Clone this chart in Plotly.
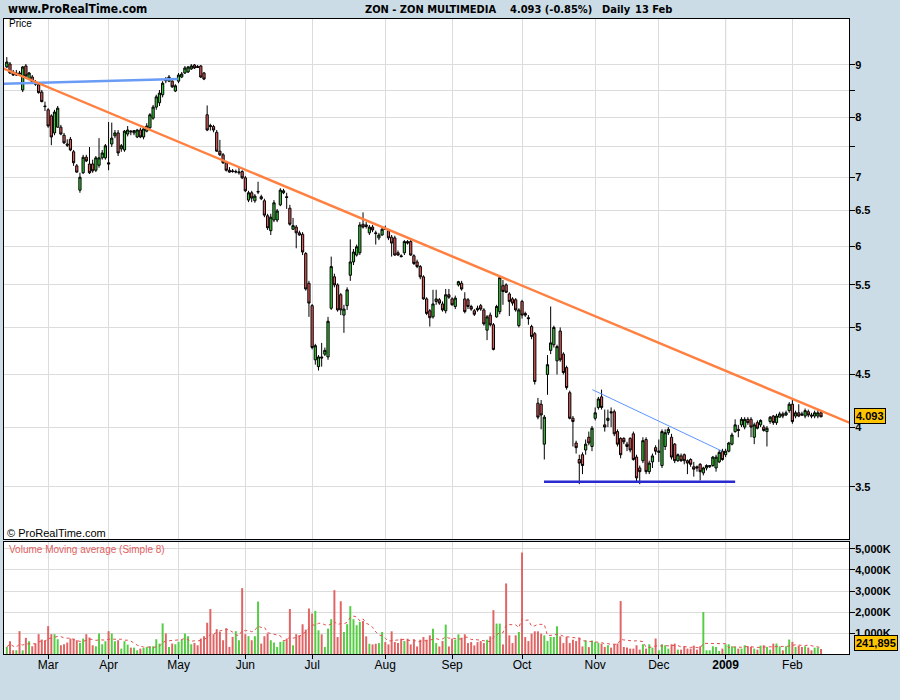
import math
import pandas as pd
import plotly.graph_objects as go

# ---------------- data ----------------
holidays = ["2008-03-21", "2008-03-24", "2008-05-01", "2008-12-25", "2008-12-26", "2009-01-01"]
dates = [d for d in pd.bdate_range("2008-02-13", "2009-02-13") if d.strftime("%Y-%m-%d") not in holidays]

opens = [
    8.96, 9.02, 8.86, 8.80, 8.84, 8.51, 8.98, 8.72, 8.76, 8.66,
    8.61, 8.47, 8.21, 8.14, 8.03, 7.73, 7.83, 7.83, 7.69, 7.54,
    7.62, 7.41, 7.18, 6.80, 7.07, 7.32, 7.21, 7.21, 7.11, 7.19,
    7.31, 7.31, 7.23, 7.54, 7.68, 7.73, 7.46, 7.44, 7.71, 7.76,
    7.73, 7.66, 7.78, 7.66, 7.76, 7.82, 7.99, 8.19, 8.27, 8.42,
    8.70, 8.68, 8.68, 8.49, 8.68, 8.76, 8.84, 8.86, 8.92, 9.00,
    8.97, 8.98, 8.84, 8.05, 7.86, 7.84, 7.74, 7.42, 7.36, 7.23,
    7.11, 7.10, 7.08, 7.07, 7.09, 6.99, 6.65, 6.76, 6.64, 6.77,
    6.70, 6.64, 6.42, 6.21, 6.36, 6.36, 6.58, 6.76, 6.70, 6.53,
    6.23, 6.26, 6.18, 6.16, 5.90, 5.52, 5.25, 4.65, 4.58, 4.68,
    4.71, 4.68, 5.22, 5.60, 5.50, 5.38, 5.14, 5.25, 5.62, 5.79,
    5.88, 5.91, 6.30, 6.29, 6.18, 6.26, 6.18, 6.11, 6.15, 6.24,
    6.21, 6.12, 6.11, 5.91, 5.87, 5.91, 6.06, 6.06, 5.87, 5.79,
    5.73, 5.60, 5.33, 5.19, 5.12, 5.30, 5.32, 5.27, 5.19, 5.38,
    5.33, 5.24, 5.50, 5.52, 5.33, 5.32, 5.24, 5.19, 5.22, 5.25,
    5.20, 4.97, 5.14, 5.03, 5.12, 5.18, 5.49, 5.50, 5.39, 5.33,
    5.32, 5.02, 5.30, 5.16, 5.11, 5.01, 4.93, 4.22, 4.21, 3.85,
    4.50, 4.75, 4.81, 4.64, 4.96, 4.71, 4.57, 4.32, 4.08, 3.86,
    3.72, 3.76, 3.80, 3.91, 3.83, 4.08, 4.18, 4.28, 4.02, 4.06,
    4.14, 4.14, 3.96, 3.90, 3.90, 3.85, 3.90, 3.94, 3.74, 3.65,
    3.71, 3.89, 3.62, 3.70, 3.82, 3.78, 3.67, 3.83, 3.95, 3.91,
    3.85, 3.71, 3.75, 3.76, 3.71, 3.72, 3.66, 3.66, 3.68, 3.61,
    3.65, 3.66, 3.67, 3.65, 3.70, 3.79, 3.76, 3.79, 3.85, 3.96,
    3.98, 4.02, 4.00, 4.07, 4.07, 3.91, 4.04, 4.02, 4.00, 3.96,
    4.05, 4.10, 4.04, 4.09, 4.12, 4.11, 4.15, 4.21, 4.10, 4.13,
    4.12, 4.10, 4.14, 4.11, 4.10, 4.10, 4.13,
]
closes = [
    9.06, 8.84, 8.80, 8.84, 8.82, 8.96, 8.78, 8.84, 8.66, 8.62,
    8.46, 8.29, 8.20, 7.85, 7.66, 8.10, 8.17, 7.71, 7.56, 7.52,
    7.44, 7.23, 7.08, 7.00, 7.32, 7.26, 7.07, 7.10, 7.31, 7.31,
    7.39, 7.51, 7.21, 7.64, 7.73, 7.39, 7.51, 7.76, 7.78, 7.75,
    7.77, 7.78, 7.66, 7.80, 7.85, 8.05, 8.19, 8.38, 8.45, 8.64,
    8.69, 8.76, 8.57, 8.59, 8.80, 8.82, 8.94, 8.96, 8.98, 8.94,
    8.95, 8.76, 8.72, 7.78, 7.84, 7.78, 7.42, 7.36, 7.23, 7.11,
    7.08, 7.09, 7.09, 7.08, 6.99, 6.79, 6.76, 6.68, 6.71, 6.78,
    6.67, 6.43, 6.25, 6.40, 6.61, 6.49, 6.80, 6.79, 6.69, 6.30,
    6.28, 6.18, 6.15, 5.92, 5.45, 5.28, 4.78, 4.80, 4.68, 4.67,
    4.75, 5.07, 5.73, 5.50, 5.20, 5.20, 5.21, 5.44, 5.79, 5.92,
    5.99, 6.29, 6.26, 6.27, 6.26, 6.22, 6.17, 6.15, 6.23, 6.23,
    6.11, 6.04, 5.88, 5.88, 5.86, 6.06, 6.04, 5.88, 5.77, 5.73,
    5.60, 5.33, 5.16, 5.11, 5.27, 5.33, 5.28, 5.20, 5.38, 5.35,
    5.26, 5.34, 5.54, 5.45, 5.18, 5.24, 5.21, 5.15, 5.20, 5.21,
    5.04, 5.12, 5.03, 4.76, 5.24, 5.59, 5.42, 5.41, 5.30, 5.28,
    5.20, 5.20, 5.14, 5.14, 5.10, 4.90, 4.43, 4.09, 4.11, 4.09,
    4.60, 4.83, 5.00, 4.79, 4.65, 4.52, 4.37, 4.08, 4.05, 3.82,
    3.69, 3.67, 3.85, 3.86, 3.99, 4.13, 4.26, 4.18, 4.00, 4.08,
    4.13, 3.94, 3.85, 3.76, 3.87, 3.83, 3.80, 3.72, 3.57, 3.62,
    3.88, 3.62, 3.69, 3.75, 3.79, 3.79, 3.96, 3.95, 3.98, 3.74,
    3.71, 3.76, 3.71, 3.71, 3.69, 3.68, 3.64, 3.65, 3.62, 3.65,
    3.67, 3.67, 3.74, 3.74, 3.78, 3.72, 3.79, 3.86, 3.93, 4.02,
    3.97, 4.07, 4.07, 4.04, 4.00, 4.02, 3.99, 4.06, 3.97, 3.99,
    4.09, 4.04, 4.10, 4.12, 4.10, 4.13, 4.21, 4.05, 4.13, 4.10,
    4.11, 4.15, 4.11, 4.10, 4.13, 4.13, 4.093,
]
highs = [
    9.16, 9.06, 8.90, 8.90, 8.88, 8.98, 9.02, 8.86, 8.80, 8.70,
    8.62, 8.51, 8.29, 8.17, 8.06, 8.14, 8.21, 7.87, 7.73, 7.62,
    7.66, 7.44, 7.21, 7.07, 7.36, 7.36, 7.49, 7.28, 7.34, 7.64,
    7.44, 7.54, 7.92, 7.91, 7.78, 7.78, 7.54, 7.78, 7.85, 7.78,
    7.78, 7.80, 7.82, 7.83, 7.90, 8.08, 8.23, 8.42, 8.51, 8.68,
    8.76, 8.80, 8.72, 8.62, 8.84, 8.86, 8.98, 8.98, 9.02, 9.02,
    9.00, 9.00, 8.86, 8.22, 7.89, 7.87, 7.78, 7.61, 7.39, 7.26,
    7.16, 7.13, 7.12, 7.15, 7.11, 7.02, 6.79, 6.79, 6.74, 6.93,
    6.73, 6.67, 6.45, 6.45, 6.65, 6.52, 6.83, 6.82, 6.76, 6.58,
    6.39, 6.29, 6.21, 6.19, 5.92, 5.55, 5.27, 4.82, 4.70, 4.83,
    4.78, 5.12, 5.86, 5.64, 5.52, 5.40, 5.26, 5.47, 6.09, 5.96,
    6.02, 6.33, 6.47, 6.33, 6.29, 6.29, 6.21, 6.18, 6.26, 6.28,
    6.23, 6.15, 6.14, 5.94, 5.89, 6.08, 6.08, 6.08, 5.89, 5.82,
    5.75, 5.62, 5.35, 5.21, 5.44, 5.44, 5.34, 5.30, 5.45, 5.45,
    5.35, 5.37, 5.55, 5.55, 5.41, 5.34, 5.26, 5.21, 5.25, 5.27,
    5.22, 5.14, 5.17, 5.05, 5.26, 5.61, 5.56, 5.52, 5.41, 5.35,
    5.34, 5.22, 5.32, 5.18, 5.14, 5.03, 4.95, 4.27, 4.25, 4.11,
    4.70, 5.24, 5.02, 4.81, 5.00, 4.73, 4.59, 4.34, 4.10, 3.88,
    3.76, 3.78, 3.89, 3.96, 4.01, 4.18, 4.28, 4.35, 4.16, 4.16,
    4.18, 4.16, 3.98, 3.91, 3.91, 3.87, 3.91, 3.96, 3.76, 3.67,
    3.91, 3.91, 3.71, 3.77, 3.84, 3.89, 3.98, 3.98, 4.00, 3.94,
    3.86, 3.77, 3.77, 3.77, 3.72, 3.73, 3.70, 3.67, 3.69, 3.66,
    3.68, 3.67, 3.75, 3.76, 3.80, 3.81, 3.81, 3.87, 3.95, 4.07,
    4.02, 4.09, 4.09, 4.09, 4.09, 4.04, 4.06, 4.07, 4.02, 4.01,
    4.10, 4.11, 4.12, 4.14, 4.14, 4.15, 4.23, 4.25, 4.15, 4.21,
    4.14, 4.17, 4.16, 4.13, 4.15, 4.16, 4.15,
]
lows = [
    8.94, 8.82, 8.78, 8.78, 8.78, 8.47, 8.76, 8.70, 8.64, 8.59,
    8.44, 8.28, 8.12, 7.82, 7.52, 7.69, 7.82, 7.69, 7.54, 7.49,
    7.42, 7.18, 7.07, 6.76, 7.05, 7.24, 7.05, 7.07, 7.08, 7.15,
    7.28, 7.28, 7.11, 7.49, 7.64, 7.34, 7.41, 7.41, 7.67, 7.69,
    7.69, 7.64, 7.64, 7.62, 7.74, 7.80, 7.96, 8.14, 8.21, 8.37,
    8.64, 8.66, 8.55, 8.47, 8.64, 8.74, 8.82, 8.84, 8.90, 8.92,
    8.94, 8.74, 8.70, 7.76, 7.77, 7.74, 7.41, 7.34, 7.21, 7.09,
    7.07, 7.07, 7.06, 7.04, 6.97, 6.77, 6.62, 6.62, 6.61, 6.74,
    6.65, 6.40, 6.22, 6.15, 6.33, 6.33, 6.56, 6.74, 6.52, 6.28,
    6.22, 5.97, 6.14, 5.88, 5.43, 5.12, 4.76, 4.60, 4.54, 4.58,
    4.69, 4.65, 5.20, 5.47, 5.18, 5.14, 4.94, 5.20, 5.55, 5.75,
    5.86, 5.88, 6.24, 6.24, 6.15, 6.19, 6.02, 6.08, 6.14, 6.22,
    6.08, 5.86, 5.87, 5.87, 5.85, 5.88, 6.02, 5.87, 5.75, 5.71,
    5.57, 5.32, 5.14, 5.01, 5.10, 5.26, 5.26, 5.18, 5.16, 5.33,
    5.25, 5.21, 5.48, 5.43, 5.16, 5.21, 5.19, 5.13, 5.18, 5.19,
    5.02, 4.86, 5.01, 4.75, 5.11, 5.15, 5.26, 5.40, 5.13, 5.25,
    5.18, 5.00, 5.10, 5.12, 5.03, 4.87, 4.40, 4.07, 3.98, 3.72,
    4.30, 4.71, 4.78, 4.50, 4.63, 4.50, 4.35, 4.07, 3.83, 3.77,
    3.52, 3.60, 3.76, 3.84, 3.79, 4.06, 4.16, 4.16, 3.96, 4.00,
    4.00, 3.92, 3.83, 3.73, 3.85, 3.79, 3.78, 3.71, 3.53, 3.52,
    3.69, 3.60, 3.60, 3.65, 3.76, 3.70, 3.65, 3.80, 3.93, 3.72,
    3.69, 3.70, 3.70, 3.68, 3.60, 3.66, 3.58, 3.62, 3.55, 3.59,
    3.63, 3.65, 3.66, 3.62, 3.69, 3.71, 3.74, 3.78, 3.84, 3.95,
    3.91, 4.00, 3.98, 4.02, 3.91, 3.85, 3.98, 4.00, 3.96, 3.83,
    4.03, 4.02, 4.02, 4.09, 4.08, 4.10, 4.13, 4.03, 4.08, 4.09,
    4.10, 4.08, 4.09, 4.08, 4.08, 4.08, 4.09,
]
volumes_k = [
    336, 608, 176, 176, 1088, 176, 768, 608, 368, 496,
    944, 688, 656, 1328, 944, 944, 704, 416, 464, 544,
    736, 736, 656, 528, 736, 944, 784, 416, 368, 976,
    464, 608, 1088, 976, 608, 656, 256, 608, 448, 304,
    304, 176, 256, 288, 336, 368, 368, 704, 496, 1456,
    976, 336, 496, 464, 576, 688, 976, 848, 464, 528,
    416, 736, 848, 1488, 2144, 944, 1184, 1056, 656, 1216,
    336, 816, 1088, 656, 3136, 944, 848, 656, 848, 2496,
    496, 848, 976, 656, 544, 336, 576, 608, 736, 2144,
    416, 944, 896, 1416, 1160, 2168, 1928, 2056, 1128, 936,
    336, 1208, 1656, 3040, 808, 2512, 1048, 1416, 2280, 1656,
    1368, 1528, 1576, 840, 488, 456, 488, 520, 1048, 568,
    456, 1080, 568, 520, 728, 616, 728, 456, 696, 360,
    680, 808, 680, 888, 1208, 520, 360, 616, 1400, 360,
    728, 680, 936, 776, 936, 520, 568, 408, 568, 616,
    520, 680, 840, 2088, 1448, 1448, 456, 3360, 888, 520,
    888, 1048, 4832, 808, 616, 968, 1080, 1080, 968, 888,
    616, 808, 808, 1320, 840, 520, 808, 520, 680, 616,
    776, 360, 648, 328, 648, 568, 520, 496, 336, 416,
    304, 464, 496, 2520, 336, 304, 256, 256, 416, 208,
    464, 256, 464, 300, 736, 176, 464, 416, 256, 464,
    496, 208, 208, 368, 256, 256, 400, 208, 368, 2000,
    176, 176, 368, 336, 144, 256, 464, 464, 368, 336,
    256, 256, 416, 368, 336, 256, 208, 400, 416, 336,
    208, 496, 496, 368, 176, 368, 688, 576, 336, 400,
    336, 368, 304, 176, 304, 304, 241.895,
]

# hand-drawn trendlines: (trading-day index, price) anchors
resistance_idx = [-1.1, 264.9]
resistance_px = [8.93, 4.04]
early_line_idx = [-1.1, 53.8]
early_line_px = [8.63, 8.72]
wedge_idx = [184.1, 224.9]
wedge_px = [4.35, 3.79]
support_idx = [168.9, 229.0]
support_px = [3.54, 3.54]

price_ticks = [3.5, 4, 4.5, 5, 5.5, 6, 6.5, 7, 7.5, 8, 8.5, 9]
price_tick_text = ["3.5", "4", "4.5", "5", "5.5", "6", "6.5", "7", "", "8", "", "9"]
vol_ticks = [1e6, 2e6, 3e6, 4e6, 5e6]
vol_tick_text = ["1,000K", "2,000K", "3,000K", "4,000K", "5,000K"]

last_price_label = "4.093"
last_volume_label = "241,895"

# ---------------- derived ----------------
n = len(dates)
idx = list(range(n))
volumes = [v * 1000 for v in volumes_k]
vol_ma = pd.Series(volumes).rolling(8, min_periods=1).mean().tolist()

tick_idx, tick_txt = [], []
prev = None
for i, d in enumerate(dates):
    m = (d.year, d.month)
    if prev is not None and m != prev:
        tick_idx.append(i)
        tick_txt.append("<b>2009</b>" if d.month == 1 else d.strftime("%b"))
    prev = m
year_idx = tick_idx[tick_txt.index("<b>2009</b>")]

GREEN_C = "#3BC83B"
RED_C = "#DD5A5A"
GREEN_V = "#55CC44"
RED_V = "#E06464"
vol_colors = [GREEN_V if c >= o else RED_V for o, c in zip(opens, closes)]

XR = [-0.88, 264.8]

fig = go.Figure()
fig.add_trace(go.Candlestick(
    x=idx, open=opens, high=highs, low=lows, close=closes,
    xaxis="x", yaxis="y",
    increasing=dict(fillcolor=GREEN_C, line=dict(color="black", width=1)),
    decreasing=dict(fillcolor=RED_C, line=dict(color="black", width=1)),
    whiskerwidth=0, hoverinfo="skip",
))
fig.add_trace(go.Scatter(x=early_line_idx, y=early_line_px, mode="lines",
                         line=dict(color="#6A9BF5", width=2.5), xaxis="x", yaxis="y", hoverinfo="skip"))
fig.add_trace(go.Scatter(x=resistance_idx, y=resistance_px, mode="lines",
                         line=dict(color="#FF8040", width=2.5), xaxis="x", yaxis="y", hoverinfo="skip"))
fig.add_trace(go.Scatter(x=wedge_idx, y=wedge_px, mode="lines",
                         line=dict(color="#5A96FF", width=1), xaxis="x", yaxis="y", hoverinfo="skip"))
fig.add_trace(go.Scatter(x=support_idx, y=support_px, mode="lines",
                         line=dict(color="#2A2AD0", width=2.5), xaxis="x", yaxis="y", hoverinfo="skip"))

fig.add_trace(go.Bar(x=idx, y=volumes, marker=dict(color=vol_colors, line=dict(width=0)),
                     width=0.62, xaxis="x2", yaxis="y2", hoverinfo="skip"))
fig.add_trace(go.Scatter(x=idx, y=vol_ma, mode="lines", line=dict(color="#E05050", width=1, dash="3px,3px"),
                         xaxis="x2", yaxis="y2", hoverinfo="skip"))

# layout geometry (pixels -> paper)
L, R, T, B = 4, 51, 19, 46
W, H = 900, 700
PW, PH = W - L - R, H - T - B


def px_x(px):
    return (px - L) / PW


def px_y(py):
    return (H - B - py) / PH


GRID = "#DCDCDC"
axis_common = dict(showline=True, linecolor="black", linewidth=1, mirror=True, zeroline=False)

fig.update_layout(
    width=W, height=H,
    margin=dict(l=L, r=R, t=T, b=B),
    paper_bgcolor="#CBDCE6",
    plot_bgcolor="white",
    showlegend=False,
    hovermode=False,
    boxgap=0.3, boxgroupgap=0,
    font=dict(family="Liberation Sans, Arial, sans-serif", size=11, color="black"),
    xaxis=dict(domain=[0, 1], anchor="y", range=XR, tickvals=tick_idx, showticklabels=False,
               ticks="", showgrid=True, gridcolor=GRID, rangeslider=dict(visible=False), **axis_common),
    yaxis=dict(domain=[px_y(539), 1], anchor="x", type="log",
               range=[math.log10(3.1133), math.log10(9.976)], side="right",
               tickvals=price_ticks, ticktext=["<b>%s</b>" % t if t else "" for t in price_tick_text],
               ticks="outside", ticklen=5, tickcolor="black", showgrid=True, gridcolor=GRID,
               ticklabelstandoff=-2,
               tickfont=dict(size=11, color="black"), **axis_common),
    xaxis2=dict(domain=[0, 1], anchor="y2", range=XR, tickvals=tick_idx, ticktext=tick_txt,
                ticks="outside", ticklen=4, tickcolor="black", showgrid=True, gridcolor=GRID,
                ticklabelstandoff=-4,
                tickfont=dict(size=12, color="black"), **axis_common),
    yaxis2=dict(domain=[0, px_y(542)], anchor="x2", range=[0, 5.333e6], side="right",
                tickvals=vol_ticks, ticktext=["<b>%s</b>" % t for t in vol_tick_text],
                ticks="outside", ticklen=5, tickcolor="black", showgrid=True, gridcolor=GRID,
                ticklabelstandoff=-2,
                tickfont=dict(size=11, color="black"), **axis_common),
)

# darker 2009 separator lines
for xref, yref in [("x", "y domain"), ("x2", "y2 domain")]:
    fig.add_shape(type="line", xref=xref, yref=yref,
                  x0=year_idx, x1=year_idx, y0=0, y1=1,
                  line=dict(color="#A0A0A0", width=1), layer="below")

HEAD = "DejaVu Sans Condensed, Liberation Sans Narrow, Arial Narrow, sans-serif"
ann = [
    dict(text="<b>www.ProRealTime.com</b>", x=px_x(6), y=px_y(9), xanchor="left",
         font=dict(family=HEAD, size=12)),
    dict(text="<b>ZON - ZON MULTIMEDIA</b>", x=px_x(363), y=px_y(9), xanchor="left",
         font=dict(family=HEAD, size=11)),
    dict(text="<b>4.093 (-0.85%)</b>", x=px_x(508), y=px_y(9), xanchor="left",
         font=dict(family=HEAD, size=11)),
    dict(text="<b>Daily</b>", x=px_x(600), y=px_y(9), xanchor="left",
         font=dict(family=HEAD, size=11)),
    dict(text="<b>13 Feb</b>", x=px_x(633), y=px_y(9), xanchor="left",
         font=dict(family=HEAD, size=11)),
    dict(text="Price", x=px_x(7), y=px_y(24), xanchor="left", font=dict(size=10)),
    dict(text="© ProRealTime.com", x=px_x(5), y=px_y(533), xanchor="left", font=dict(size=11)),
    dict(text="Volume Moving average (Simple 8)", x=px_x(7), y=px_y(549), xanchor="left",
         font=dict(size=10, color="#E06060")),
    dict(text="<b>%s</b>" % last_volume_label, x=px_x(854), y=px_y(642.5), xanchor="left",
         bgcolor="#FFC400", bordercolor="black", borderwidth=1, borderpad=1,
         font=dict(size=11, color="black")),
]
for a in ann:
    a.update(xref="paper", yref="paper", yanchor="middle", showarrow=False)
    fig.add_annotation(**a)

fig.add_annotation(text="<b>%s</b>" % last_price_label, xref="paper", yref="paper",
                   x=px_x(854), y=px_y(416), xanchor="left", yanchor="middle",
                   showarrow=False, bgcolor="#FFC400", bordercolor="black", borderwidth=1,
                   borderpad=1, font=dict(size=11, color="black"))

fig.write_html("out.html", config={"displayModeBar": False, "staticPlot": True},
               post_script="document.body.style.margin='0';document.body.style.overflow='hidden';")
